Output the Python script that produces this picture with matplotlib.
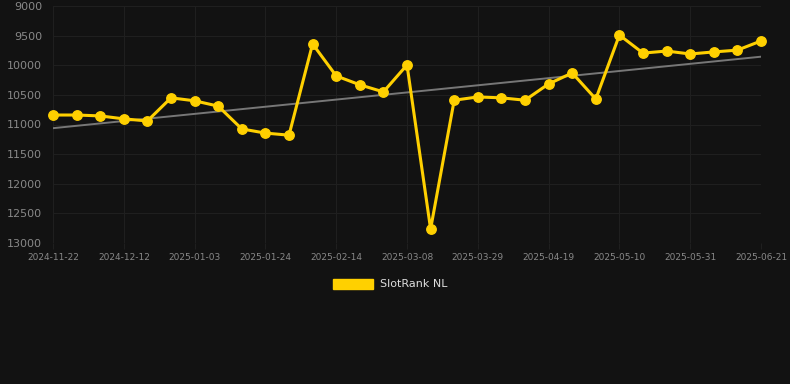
import matplotlib
matplotlib.use("Agg")
import matplotlib.pyplot as plt
import numpy as np
from matplotlib.patches import Patch

tick_labels = ["2024-11-22", "2024-12-12", "2025-01-03", "2025-01-24", "2025-02-14",
               "2025-03-08", "2025-03-29", "2025-04-19", "2025-05-10", "2025-05-31", "2025-06-21"]
ranks = [10840, 10840, 10855, 10905, 10940, 10550, 10600, 10690, 11075, 11145, 11180,
         9640, 10180, 10330, 10450, 9995, 12765, 10590, 10535, 10550, 10590, 10315,
         10130, 10570, 9490, 9795, 9760, 9810, 9775, 9745, 9590]
series_name = "SlotRank NL"

bg = "#121212"
yellow = "#FFD000"
fig = plt.figure(figsize=(7.9, 3.84), dpi=100, facecolor=bg)
ax = fig.add_axes([53/790, 1-243/384, (761-53)/790, (243-6)/384], facecolor=bg)

x = np.arange(len(ranks))
ax.plot(x, ranks, color=yellow, lw=2.2, marker="o", ms=6.8, zorder=3, clip_on=False)
coef = np.polyfit(x, ranks, 1)
ax.plot(x, np.polyval(coef, x), color="#777777", lw=1.4, zorder=2)

ax.set_xlim(0, len(ranks)-1)
ax.set_ylim(13000, 9000)
ax.set_yticks(np.arange(9000, 13001, 500))
ax.set_xticks(x[::3])
ax.set_xticklabels(tick_labels)
ax.grid(True, color="#1f1f1f", lw=0.8)
for s in ax.spines.values():
    s.set_visible(False)
ax.tick_params(axis="y", length=0, colors="#888888", labelsize=8, pad=8)
ax.tick_params(axis="x", length=4, color="#1f1f1f", colors="#888888", labelsize=6.5, pad=3)

leg = fig.legend(handles=[Patch(facecolor=yellow, edgecolor=yellow)], labels=[series_name],
                 loc="center", bbox_to_anchor=(390/790, 1-284/384), frameon=False,
                 handlelength=3.6, handleheight=1.0, fontsize=8, labelcolor="#dddddd",
                 handletextpad=0.6)
fig.savefig("out.png", dpi=100, facecolor=bg)
